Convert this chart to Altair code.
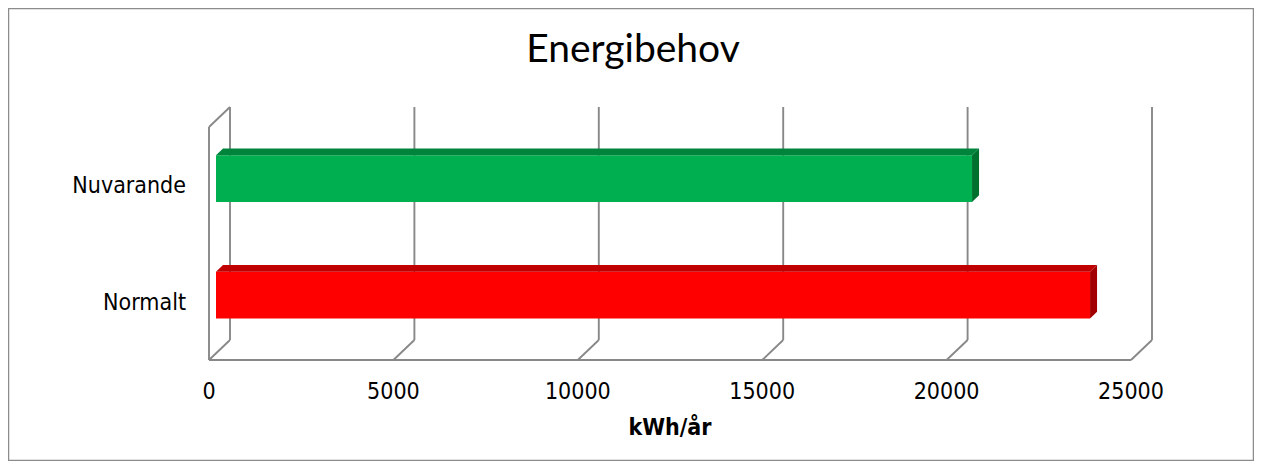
import altair as alt
import pandas as pd

# ---- data ----
categories = ["Normalt", "Nuvarande"]
values = [23700, 20500]
front_colors = ["#FF0000", "#00B050"]
top_colors = ["#C00000", "#00843C"]
side_colors = ["#A20000", "#00702F"]
ticks = [0, 5000, 10000, 15000, 20000, 25000]
title_text = "Energibehov"
x_title = "kWh/år"

# ---- layout constants (style) ----
W, H = 1246, 453
X_DOMAIN = [0, 25000]
X_RANGE = [201, 1123]
Y_DOMAIN = [-0.5, 1.5]
Y_RANGE = [352, 119]
DEPTH_PX_X, DEPTH_PX_Y = 21, 20
DX = DEPTH_PX_X * (X_DOMAIN[1] - X_DOMAIN[0]) / (X_RANGE[1] - X_RANGE[0])
DY = DEPTH_PX_Y * (Y_DOMAIN[1] - Y_DOMAIN[0]) / (Y_RANGE[0] - Y_RANGE[1])
HALF = 0.2
D0, D1 = 1 / 3, 2 / 3
GRID = "#888888"
LABEL_FONT = "DejaVu Sans Condensed"

xs = alt.Scale(domain=X_DOMAIN, range=X_RANGE)
ys = alt.Scale(domain=Y_DOMAIN, range=Y_RANGE)

# ---- wall / floor segments ----
lo, hi = Y_DOMAIN
segs = []
# left wall
segs.append((0, lo, 0, hi))
segs.append((DX, lo + DY, DX, hi + DY))
segs.append((0, hi, DX, hi + DY))
# floor front line
segs.append((ticks[0], lo, ticks[-1], lo))
for t in ticks:
    segs.append((t, lo, t + DX, lo + DY))
    if t != ticks[0]:
        segs.append((t + DX, lo + DY, t + DX, hi + DY))
seg_df = pd.DataFrame(segs, columns=["x", "y", "x2", "y2"])

walls = alt.Chart(seg_df).mark_rule(color=GRID, strokeWidth=1.9).encode(
    x=alt.X("x:Q", scale=xs, axis=None),
    x2="x2:Q",
    y=alt.Y("y:Q", scale=ys, axis=None),
    y2="y2:Q",
)

# ---- bars ----
front_rows, top_rows, side_rows = [], [], []
for i, (c, v) in enumerate(zip(categories, values)):
    front_rows.append(dict(cat=c, x=D0 * DX, x2=v + D0 * DX,
                           y=i - HALF + D0 * DY, y2=i + HALF + D0 * DY,
                           fill=front_colors[i]))
    top_rows.append(dict(face=f"t{i}", y=i + HALF + D0 * DY, x=D0 * DX, x2=v + D0 * DX, fill=top_colors[i]))
    top_rows.append(dict(face=f"t{i}", y=i + HALF + D1 * DY, x=D1 * DX, x2=v + D1 * DX, fill=top_colors[i]))
    side_rows.append(dict(face=f"s{i}", x=v + D0 * DX, y=i - HALF + D0 * DY, y2=i + HALF + D0 * DY, fill=side_colors[i]))
    side_rows.append(dict(face=f"s{i}", x=v + D1 * DX, y=i - HALF + D1 * DY, y2=i + HALF + D1 * DY, fill=side_colors[i]))

front = alt.Chart(pd.DataFrame(front_rows)).mark_rect().encode(
    x=alt.X("x:Q", scale=xs, axis=None),
    x2="x2:Q",
    y=alt.Y("y:Q", scale=ys, axis=None),
    y2="y2:Q",
    fill=alt.Fill("fill:N", scale=None),
)

top = alt.Chart(pd.DataFrame(top_rows)).mark_area(orient="horizontal").encode(
    y=alt.Y("y:Q", scale=ys, axis=None),
    x=alt.X("x:Q", scale=xs, axis=None, stack=None),
    x2="x2:Q",
    fill=alt.Fill("fill:N", scale=None),
    detail="face:N",
)

side = alt.Chart(pd.DataFrame(side_rows)).mark_area(orient="vertical").encode(
    x=alt.X("x:Q", scale=xs, axis=None),
    y=alt.Y("y:Q", scale=ys, axis=None, stack=None),
    y2="y2:Q",
    fill=alt.Fill("fill:N", scale=None),
    detail="face:N",
)

# ---- text ----
cat_df = pd.DataFrame({"cat": categories, "pos": list(range(len(categories)))})
cat_labels = alt.Chart(cat_df).mark_text(
    align="right", baseline="alphabetic", dy=8, font=LABEL_FONT, fontSize=23, color="#000000"
).encode(
    x=alt.value(178),
    y=alt.Y("pos:Q", scale=ys, axis=None),
    text="cat:N",
)

tick_df = pd.DataFrame({"t": ticks})
tick_labels = alt.Chart(tick_df).mark_text(
    align="center", baseline="alphabetic", font=LABEL_FONT, fontSize=23, color="#000000"
).encode(
    x=alt.X("t:Q", scale=xs, axis=None),
    y=alt.value(391),
    text="t:Q",
)

axis_title = alt.Chart(pd.DataFrame({"t": [x_title]})).mark_text(
    align="center", baseline="alphabetic", font=LABEL_FONT, fontSize=23, fontWeight="bold", color="#000000"
).encode(
    x=alt.datum(sum(X_DOMAIN) / 2, scale=xs),
    y=alt.value(427),
    text="t:N",
)

title = alt.Chart(pd.DataFrame({"t": [title_text]})).mark_text(
    align="center", baseline="alphabetic", font="Lato", fontSize=39, color="#000000"
).encode(
    x=alt.value(625),
    y=alt.value(54),
    text="t:N",
)

chart = alt.layer(walls, front, top, side, cat_labels, tick_labels, axis_title, title).properties(
    width=W, height=H, padding=0, autosize=alt.AutoSizeParams(type="none")
).configure_view(stroke="#8C8C8C", strokeWidth=2.5)

chart.save("out.html", embed_options={"renderer": "svg", "actions": False})
